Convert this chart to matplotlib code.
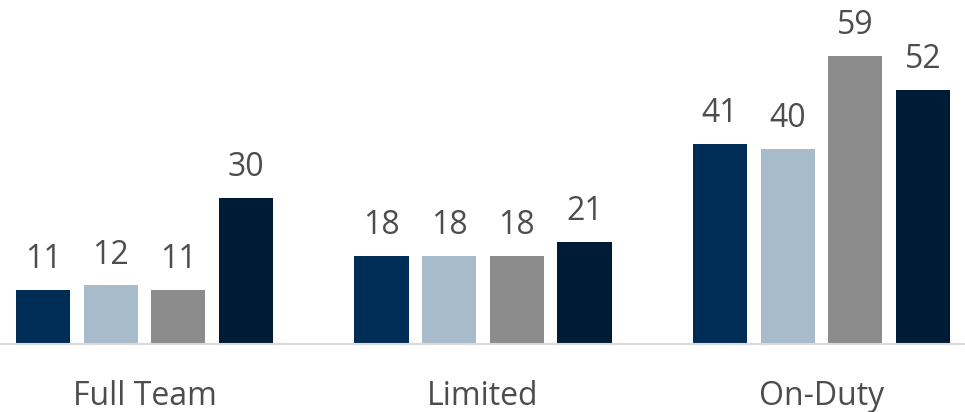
import matplotlib.pyplot as plt
import numpy as np

# data
categories = ["Full Team", "Limited", "On-Duty"]
series_a = [11, 18, 41]
series_b = [12, 18, 40]
series_c = [11, 18, 59]
series_d = [30, 21, 52]

colors = ["#002D56", "#A8BBCA", "#8C8C8C", "#001B36"]
txt = "#4D4D4D"

plt.rcParams['font.family'] = ['Open Sans', 'DejaVu Sans']

fig = plt.figure(figsize=(9.65, 4.12), dpi=100)
ax = fig.add_axes([0, 0.165, 1, 0.835])

x = np.arange(len(categories))
pitch = 0.2
width = 0.16
all_series = [series_a, series_b, series_c, series_d]
for i, vals in enumerate(all_series):
    pos = x + (i - 1.5) * pitch
    bars = ax.bar(pos, vals, width, color=colors[i])
    for xb, v in zip(pos, vals):
        ax.annotate(str(v), (xb, v), textcoords="offset points", xytext=(0, 10),
                    ha="center", va="bottom", fontsize=23, color=txt)

ax.set_xlim(-0.427, 2.424)
ax.set_ylim(0, 70.5)
ax.set_yticks([])
ax.set_xticks(x)
ax.set_xticklabels(categories, fontsize=23, color=txt)
ax.tick_params(axis="x", length=0, pad=26)
for s in ["top", "right", "left"]:
    ax.spines[s].set_visible(False)
ax.spines["bottom"].set_color("#D9D9D9")
ax.spines["bottom"].set_linewidth(1.5)

fig.savefig("out.png", dpi=100)
